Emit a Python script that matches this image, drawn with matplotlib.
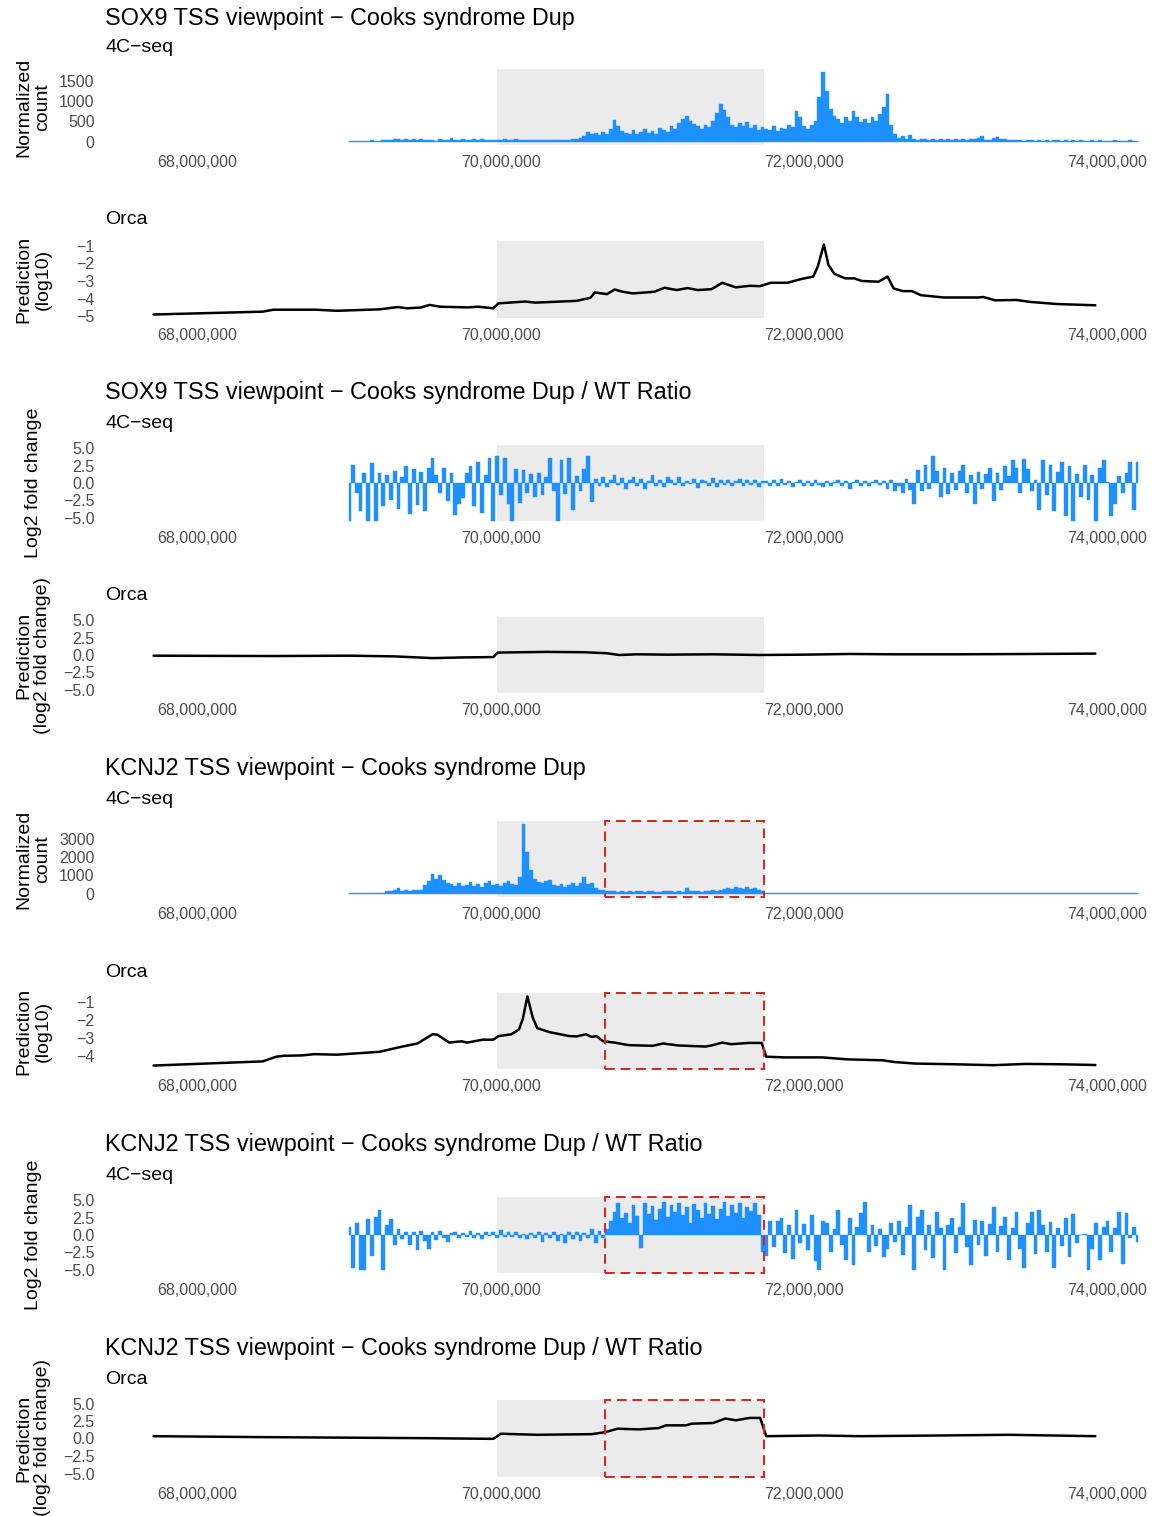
import numpy as np
import matplotlib
matplotlib.use("Agg")
import matplotlib.pyplot as plt
from matplotlib.patches import Rectangle
from matplotlib.ticker import FixedLocator, FixedFormatter

plt.rcParams['font.family'] = ['Liberation Sans', 'DejaVu Sans']

# ---------------------------------------------------------------- data
# 4C-seq bins: start (Mb) and bin width (Mb)
bin_start_mb = 69.0
bin_step_mb = 0.025

# SOX9 viewpoint, Cooks Dup, normalized 4C-seq counts
sox9_dup_4c = [
    15, 20, 12, 25, 18, 22, 30, 20, 25, 35,
    40, 30, 55, 70, 45, 60, 50, 65, 40, 55,
    35, 30, 40, 25, 60, 30, 45, 85, 40, 35,
    60, 50, 30, 55, 45, 60, 40, 50, 45, 35,
    40, 55, 35, 45, 60, 40, 50, 35, 45, 50,
    40, 45, 35, 50, 40, 35, 30, 45, 40, 55,
    70, 90, 150, 240, 180, 220, 160, 250, 200, 300,
    530, 380, 260, 220, 180, 280, 200, 240, 300, 220,
    260, 200, 330, 280, 250, 380, 320, 450, 560, 640,
    520, 430, 380, 300, 420, 360, 500, 700, 940, 780,
    600, 420, 360, 450, 380, 480, 330, 400, 280, 350,
    320, 290, 380, 260, 340, 300, 420, 350, 760, 600,
    380, 320, 400, 520, 1100, 1720, 1250, 800, 640, 560,
    450, 600, 500, 760, 620, 480, 560, 450, 620, 500,
    680, 850, 1180, 420, 180, 80, 140, 70, 160, 60,
    45, 70, 55, 40, 65, 50, 75, 45, 55, 40,
    60, 50, 70, 45, 60, 55, 90, 150, 50, 40,
    80, 110, 60, 75, 40, 45, 30, 40, 25, 35,
    30, 25, 45, 20, 30, 25, 50, 30, 20, 35,
    25, 30, 20, 35, 15, 25, 40, 20, 30, 15,
    25, 20, 30, 15, 25, 20, 30, 15, 20,
]

# SOX9 viewpoint, Dup / WT log2 ratio of 4C-seq
sox9_ratio_4c = [
    -5.5, 2.6, -1.5, -4.0, 1.5, -5.5, 2.9, -5.5, 1.4, -3.4,
    1.2, -2.5, 1.8, -3.8, 0.8, 2.4, -4.5, 2.0, -3.2, 1.6,
    -4.0, 2.2, 3.6, 1.2, -1.5, 2.2, -2.6, 1.5, -4.6, -3.0,
    -2.2, 1.4, 2.4, -3.4, 3.1, -4.3, 1.2, 3.6, -5.5, 3.9,
    -1.8, 3.6, -3.0, -5.5, 2.0, -2.9, 1.9, -1.5, 1.3, -2.0,
    1.5, -1.8, 0.9, 3.6, -1.2, -5.5, 3.4, -1.6, 3.6, -3.9,
    1.0, -1.2, 2.0, 3.9, -2.8, 0.6, -0.4, 0.9, -0.6, 0.5,
    1.1, -0.3, 0.7, -0.8, 0.4, 0.8, -0.5, 0.6, -0.9, 0.3,
    1.2, -0.4, 0.5, -0.6, 0.8, 0.4, -0.3, 0.9, -0.5, 0.3,
    -0.2, 0.6, -0.7, 0.5, 0.3, -0.4, 0.7, -0.6, 0.4, -0.3,
    0.5, -0.5, 0.3, 0.6, -0.4, 0.5, -0.3, 0.4, -0.6, 0.3,
    0.3, -0.4, 0.4, -0.5, 0.6, -0.3, 0.3, -0.6, 0.2, 0.4,
    -0.5, 0.3, -0.4, 0.5, -0.3, -0.6, 0.3, -0.4, 0.2, 0.5,
    -0.5, 0.3, -0.8, 0.2, 0.4, -0.4, 0.3, -0.5, 0.2, 0.4,
    -0.3, 0.3, -0.8, 0.4, -1.2, -0.5, -1.5, 0.6, -1.0, -3.1,
    1.9, -1.2, 2.6, -0.8, 3.9, 1.8, -2.0, 2.2, -1.6, 1.5,
    -1.0, 1.8, 2.6, -1.4, 1.2, -3.1, 1.6, -0.8, 1.3, 2.1,
    -2.6, 1.4, -1.0, 2.4, 1.0, 3.4, 2.2, -1.5, 3.5, 2.0,
    -1.2, 0.5, -3.9, 3.4, -1.8, 2.6, -4.1, 1.6, 3.1, -4.8,
    2.4, -5.5, 1.3, -2.0, 2.6, -2.4, 1.2, -5.5, 2.2, 3.4,
    0.2, -4.8, -3.0, 1.0, -1.5, 1.4, 3.1, -3.9, 3.1,
]

# KCNJ2 viewpoint, Cooks Dup, normalized 4C-seq counts
kcnj2_dup_4c = [
    25, 30, 20, 35, 25, 30, 40, 30, 35, 45,
    120, 150, 180, 310, 160, 200, 140, 180, 220, 170,
    450, 680, 1050, 820, 1000, 750, 580, 520, 430, 560,
    400, 480, 620, 420, 500, 380, 560, 680, 450, 500,
    420, 580, 680, 500, 450, 900, 3800, 2300, 1300, 800,
    620, 560, 700, 760, 480, 420, 520, 380, 450, 560,
    420, 600, 900, 500, 560, 300, 220, 180, 150, 120,
    130, 100, 150, 110, 140, 90, 120, 160, 100, 130,
    150, 110, 90, 140, 120, 160, 100, 130, 110, 300,
    150, 120, 140, 110, 160, 130, 180, 150, 220, 260,
    320, 250, 380, 300, 270, 350, 240, 300, 200, 120,
    30, 20, 25, 35, 20, 30, 15, 25, 20, 35,
    25, 15, 30, 20, 40, 25, 20, 30, 15, 25,
    20, 30, 25, 15, 35, 20, 25, 30, 20, 15,
    25, 20, 30, 15, 20, 25, 15, 30, 20, 25,
    15, 20, 25, 15, 30, 20, 15, 25, 20, 15,
    20, 25, 15, 20, 30, 15, 20, 25, 15, 20,
    15, 20, 25, 15, 20, 15, 25, 20, 15, 20,
    20, 15, 20, 25, 15, 20, 15, 20, 25, 15,
    15, 20, 15, 20, 15, 25, 15, 20, 15, 20,
    15, 20, 15, 20, 15, 20, 15, 20, 15,
]

# KCNJ2 viewpoint, Dup / WT log2 ratio of 4C-seq
kcnj2_ratio_4c = [
    1.2, -4.8, 1.8, -5.1, -5.1, 2.3, -3.0, 2.6, 3.6, -5.1,
    1.4, 2.3, -1.5, 0.8, -0.6, 0.5, -1.4, 0.4, -2.2, 0.6,
    -0.8, -2.0, 0.5, -0.7, 0.6, -0.4, -1.0, 0.3, 0.4, -0.5,
    0.3, -0.3, 0.6, -0.4, 0.3, -0.6, 0.5, -0.2, 0.4, -0.5,
    0.7, -0.3, 0.4, -0.3, 0.5, -0.4, 0.2, -0.6, 0.3, -0.5,
    0.4, -1.0, 0.3, -0.4, 0.5, -0.8, 0.2, -1.2, 0.4, -0.6,
    0.5, -0.9, 0.3, -0.5, 0.8, -1.2, 0.6, -0.4, 0.9, 2.0,
    3.4, 4.6, 2.5, 3.2, 1.8, 4.4, 2.8, -1.9, 4.6, 3.0,
    4.2, 2.2, 3.8, 4.8, 2.6, 4.4, 3.3, 4.7, 2.9, 4.0,
    1.8, 4.5, 3.6, 2.4, 4.6, 3.0, 4.2, 2.3, 3.7, 4.8,
    2.8, 4.4, 3.2, 4.6, 2.5, 4.1, 3.5, 4.7, 2.9, -2.4,
    -3.0, 2.0, -1.8, 2.0, 2.5, -2.6, 1.4, -3.5, 3.6, -1.2,
    1.6, -2.2, 2.9, -3.8, -5.1, 2.0, 1.8, -2.5, 0.8, 3.6,
    -1.5, -3.6, 2.5, -4.3, 1.2, 3.2, 4.8, -2.4, 1.5, -1.6,
    0.9, -3.2, -2.0, 1.8, -1.0, 2.0, -2.9, 1.2, 4.3, -5.1,
    2.6, 3.6, -2.2, 1.4, -3.4, 3.3, 1.0, -5.1, 1.5, 2.4,
    -2.6, 1.1, 4.6, -1.8, -4.3, 2.2, -1.4, 2.0, -3.0, 1.6,
    4.1, -2.4, 1.3, 2.6, -3.6, 1.0, 3.3, -2.0, -4.8, 1.7,
    3.3, -2.8, 3.6, 1.4, -2.4, 1.9, -4.8, 1.0, -1.6, 2.4,
    -3.2, 3.1, -1.2, 0.0, 0.2, -5.1, -2.0, 1.8, -3.6, 1.2,
    2.0, -2.4, 1.0, 3.3, -4.2, 3.2, -0.5, 1.1, -1.0,
]

# Orca predictions (position in Mb, value)
sox9_orca_x = [67.71, 68.43, 68.50, 68.78, 68.92, 69.20, 69.32, 69.38, 69.47, 69.53,
               69.60, 69.78, 69.85, 69.95, 69.985, 70.16, 70.23, 70.50, 70.59, 70.62,
               70.70, 70.75, 70.80, 70.87, 71.01, 71.08, 71.16, 71.23, 71.30, 71.39,
               71.46, 71.55, 71.64, 71.71, 71.78, 71.89, 71.98, 72.06, 72.09, 72.13,
               72.16, 72.20, 72.27, 72.33, 72.38, 72.49, 72.55, 72.59, 72.65, 72.71,
               72.77, 72.92, 73.15, 73.18, 73.26, 73.40, 73.49, 73.67, 73.92]
sox9_orca_y = [-4.89, -4.73, -4.62, -4.62, -4.68, -4.60, -4.47, -4.54, -4.50, -4.35,
               -4.45, -4.49, -4.45, -4.54, -4.26, -4.16, -4.22, -4.12, -3.95, -3.65,
               -3.74, -3.48, -3.60, -3.70, -3.61, -3.38, -3.51, -3.40, -3.51, -3.46,
               -3.10, -3.36, -3.27, -3.29, -3.10, -3.10, -2.89, -2.75, -2.18, -0.94,
               -2.09, -2.60, -2.85, -2.85, -3.00, -3.04, -2.75, -3.42, -3.57, -3.57,
               -3.80, -3.93, -3.93, -3.90, -4.09, -4.07, -4.18, -4.30, -4.37]

sox9_orca_ratio_x = [67.71, 68.50, 69.00, 69.30, 69.55, 69.75, 69.95, 69.98, 70.30, 70.55,
                     70.70, 70.78, 70.90, 71.10, 71.40, 71.70, 72.00, 72.30, 72.60, 73.00,
                     73.50, 73.92]
sox9_orca_ratio_y = [-0.10, -0.15, -0.10, -0.20, -0.45, -0.35, -0.30, 0.35, 0.45, 0.40,
                     0.25, 0.00, 0.10, 0.05, 0.10, 0.00, 0.05, 0.15, 0.10, 0.10,
                     0.15, 0.20]

kcnj2_orca_x = [67.71, 68.43, 68.52, 68.57, 68.69, 68.77, 68.92, 69.20, 69.34, 69.45,
                69.55, 69.58, 69.66, 69.74, 69.78, 69.88, 69.95, 69.985, 70.07, 70.12,
                70.145, 70.175, 70.21, 70.24, 70.32, 70.45, 70.50, 70.56, 70.60, 70.63,
                70.675, 70.75, 70.84, 71.00, 71.07, 71.17, 71.35, 71.40, 71.46, 71.52,
                71.63, 71.72, 71.75, 71.87, 72.12, 72.29, 72.52, 72.59, 72.73, 72.99,
                73.25, 73.46, 73.69, 73.92]
kcnj2_orca_y = [-4.53, -4.30, -4.04, -3.99, -3.97, -3.90, -3.93, -3.77, -3.50, -3.31,
                -2.80, -2.82, -3.26, -3.19, -3.26, -3.10, -3.10, -2.90, -2.80, -2.53,
                -1.95, -0.71, -1.86, -2.46, -2.68, -2.90, -2.92, -2.80, -2.95, -2.90,
                -3.19, -3.26, -3.40, -3.44, -3.31, -3.42, -3.48, -3.40, -3.26, -3.35,
                -3.28, -3.28, -4.04, -4.08, -4.08, -4.19, -4.24, -4.33, -4.42, -4.46,
                -4.51, -4.44, -4.46, -4.50]

kcnj2_orca_ratio_x = [67.71, 68.47, 69.49, 69.95, 70.00, 70.24, 70.60, 70.69, 70.77, 70.91,
                      71.04, 71.09, 71.22, 71.26, 71.40, 71.48, 71.55, 71.64, 71.71, 71.75,
                      72.10, 72.37, 72.90, 73.35, 73.92]
kcnj2_orca_ratio_y = [0.33, 0.19, 0.05, -0.05, 0.68, 0.53, 0.62, 0.91, 1.40, 1.30,
                      1.49, 1.88, 1.88, 2.12, 2.21, 2.85, 2.60, 2.94, 2.94, 0.33,
                      0.43, 0.33, 0.43, 0.53, 0.33]

# Highlighted regions (Mb)
dup_region = (69.974, 71.733)
kcnj2_box = (70.685, 71.733)

x_ticks_mb = [68, 70, 72, 74]

# ---------------------------------------------------------------- figure
W, H = 1156, 1516
fig = plt.figure(figsize=(W / 100, H / 100), dpi=100)
fig.patch.set_facecolor('white')

LEFT = 105
XL = 67.390e6
XR = 74.320e6
BLUE = '#1E90FF'
GREY_BG = '#EBEBEB'
RED = '#DD1F1F'
TICK_COL = '#4D4D4D'


def fmt_num(v, decimals):
    s = f"{v:.{decimals}f}"
    return s.replace('-', '\u2212')


def make_panel(top, height, ylim, yticks, ydec, box=False):
    ax = fig.add_axes([LEFT / W, 1 - (top + height) / H, (W - LEFT) / W, height / H])
    ax.set_xlim(XL, XR)
    ax.set_ylim(*ylim)
    for s in ax.spines.values():
        s.set_visible(False)
    ax.set_facecolor('none')
    ax.axvspan(dup_region[0] * 1e6, dup_region[1] * 1e6, color=GREY_BG, zorder=0, lw=0)
    xt = [v * 1e6 for v in x_ticks_mb]
    ax.xaxis.set_major_locator(FixedLocator(xt))
    ax.xaxis.set_major_formatter(FixedFormatter([f"{int(v):,}" for v in xt]))
    ax.yaxis.set_major_locator(FixedLocator(yticks))
    ax.yaxis.set_major_formatter(FixedFormatter([fmt_num(v, ydec) for v in yticks]))
    ax.tick_params(axis='x', length=0, pad=7.0, labelsize=11.5, labelcolor=TICK_COL)
    ax.tick_params(axis='y', length=0, pad=7.5, labelsize=11.5, labelcolor=TICK_COL)
    if box:
        y0, y1 = ylim
        rect = Rectangle((kcnj2_box[0] * 1e6, y0), (kcnj2_box[1] - kcnj2_box[0]) * 1e6,
                         y1 - y0, fill=False, edgecolor=RED, lw=1.4,
                         linestyle=(0, (5, 3)), zorder=5, clip_on=False)
        ax.add_patch(rect)
    return ax


def pad_lim(lo, hi):
    r = hi - lo
    return lo - 0.05 * r, hi + 0.05 * r


bins = (bin_start_mb + bin_step_mb * np.arange(len(sox9_dup_4c))) * 1e6


def area(ax, vals):
    ax.fill_between(bins, vals, 0, step='mid', color=BLUE, lw=0.3,
                    edgecolor=BLUE, zorder=2)


def orca_line(ax, xs, ys):
    ax.plot(np.array(xs) * 1e6, ys, color='black', lw=1.8, zorder=3,
            solid_joinstyle='round', solid_capstyle='round')


def title(text, y):
    fig.text(LEFT / W, 1 - y / H, text, fontsize=16.8, va='center', ha='left')


def subtitle(text, y):
    fig.text(LEFT / W, 1 - y / H, text, fontsize=14, va='center', ha='left')


def ylab(text, yc, x=33.5):
    fig.text(x / W, 1 - yc / H, text, fontsize=14, rotation=90, ha='center',
             va='center', multialignment='center', linespacing=1.15)


ratio_lim = (-5.5, 5.5)
ratio_ticks = [-5.0, -2.5, 0.0, 2.5, 5.0]

# SOX9 Dup 4C-seq
title('SOX9 TSS viewpoint \u2212 Cooks syndrome Dup', 18)
subtitle('4C\u2212seq', 48)
ax = make_panel(69, 76, pad_lim(0, max(sox9_dup_4c)), [0, 500, 1000, 1500], 0)
area(ax, sox9_dup_4c)
ylab('Normalized\ncount', 107)

# SOX9 Dup Orca
subtitle('Orca', 220)
ax = make_panel(241, 77, pad_lim(min(sox9_orca_y), max(sox9_orca_y)), [-5, -4, -3, -2, -1], 0)
orca_line(ax, sox9_orca_x, sox9_orca_y)
ylab('Prediction\n(log10)', 279)

# SOX9 ratio 4C-seq
title('SOX9 TSS viewpoint \u2212 Cooks syndrome Dup / WT Ratio', 393)
subtitle('4C\u2212seq', 424)
ax = make_panel(445, 76, ratio_lim, ratio_ticks, 1)
area(ax, sox9_ratio_4c)
ylab('Log2 fold change', 483)

# SOX9 ratio Orca
subtitle('Orca', 596)
ax = make_panel(617, 76, ratio_lim, ratio_ticks, 1)
orca_line(ax, sox9_orca_ratio_x, sox9_orca_ratio_y)
ylab('Prediction\n(log2 fold change)', 655)

# KCNJ2 Dup 4C-seq
title('KCNJ2 TSS viewpoint \u2212 Cooks syndrome Dup', 769)
subtitle('4C\u2212seq', 800)
ax = make_panel(821, 76, pad_lim(0, max(kcnj2_dup_4c)), [0, 1000, 2000, 3000], 0, box=True)
area(ax, kcnj2_dup_4c)
ylab('Normalized\ncount', 859)

# KCNJ2 Dup Orca
subtitle('Orca', 972)
ax = make_panel(993, 76, pad_lim(min(kcnj2_orca_y), max(kcnj2_orca_y)), [-4, -3, -2, -1], 0, box=True)
orca_line(ax, kcnj2_orca_x, kcnj2_orca_y)
ylab('Prediction\n(log10)', 1031)

# KCNJ2 ratio 4C-seq
title('KCNJ2 TSS viewpoint \u2212 Cooks syndrome Dup / WT Ratio', 1145)
subtitle('4C\u2212seq', 1176)
ax = make_panel(1197, 76, ratio_lim, ratio_ticks, 1, box=True)
area(ax, kcnj2_ratio_4c)
ylab('Log2 fold change', 1235)

# KCNJ2 ratio Orca
title('KCNJ2 TSS viewpoint \u2212 Cooks syndrome Dup / WT Ratio', 1349)
subtitle('Orca', 1379)
ax = make_panel(1400, 77, ratio_lim, ratio_ticks, 1, box=True)
orca_line(ax, kcnj2_orca_ratio_x, kcnj2_orca_ratio_y)
ylab('Prediction\n(log2 fold change)', 1438)

fig.savefig('out.png', dpi=100, facecolor='white')
